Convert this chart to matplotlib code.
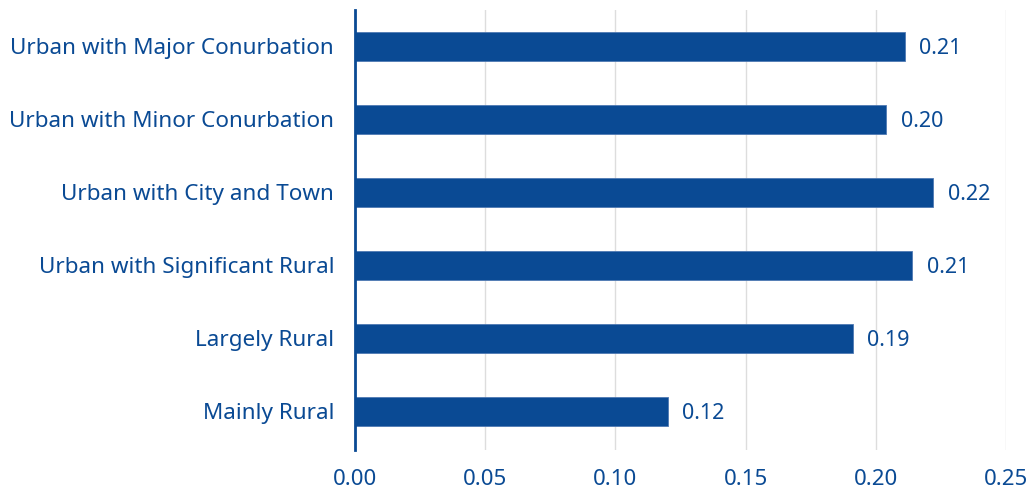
import matplotlib
matplotlib.use("Agg")
from matplotlib import pyplot as plt

categories = ["Urban with Major Conurbation", "Urban with Minor Conurbation",
              "Urban with City and Town", "Urban with Significant Rural",
              "Largely Rural", "Mainly Rural"]
values = [0.211, 0.204, 0.222, 0.214, 0.191, 0.120]
value_labels = ["0.21", "0.20", "0.22", "0.21", "0.19", "0.12"]
x_ticks = [0.00, 0.05, 0.10, 0.15, 0.20, 0.25]

blue = "#0a4a94"
plt.rcParams["font.family"] = ["Noto Sans", "DejaVu Sans"]

fig = plt.figure(figsize=(10.32, 4.9), dpi=100)
ax = fig.add_axes([0.344, 0.082, 0.631, 0.898])

pos = list(range(len(categories)))
ax.barh(pos, values, height=0.4, color=blue, edgecolor="#4f79b3", linewidth=0.6, zorder=3)
for p, v, lab in zip(pos, values, value_labels):
    ax.text(v + 0.0055, p + 0.03, lab, va="center", ha="left", color=blue, fontsize=15.5)

ax.set_yticks(pos)
ax.set_yticklabels(categories, fontsize=16.2)
ax.set_ylim(5.53, -0.5)
ax.set_xlim(0, 0.25)
ax.set_xticks(x_ticks)
ax.set_xticklabels([f"{t:.2f}" for t in x_ticks], fontsize=16)
ax.tick_params(axis="both", length=0, colors=blue)
ax.tick_params(axis="y", pad=15)
ax.tick_params(axis="x", pad=14)
ax.grid(axis="x", color="#dddddd", linewidth=1, zorder=0)
for s in ["top", "right", "bottom"]:
    ax.spines[s].set_visible(False)
ax.spines["left"].set_color(blue)
ax.spines["left"].set_linewidth(2)
ax.spines["left"].set_zorder(4)

fig.savefig("out.png", dpi=100)
